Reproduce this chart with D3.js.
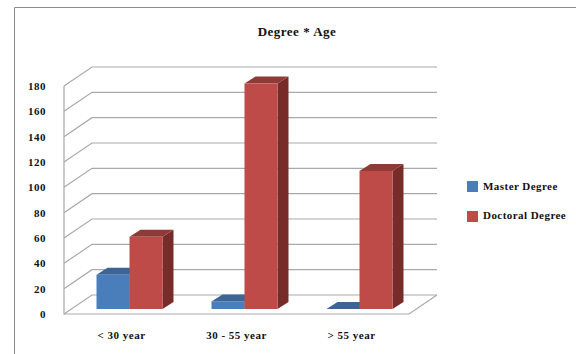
<!DOCTYPE html>
<html>
<head>
<meta charset="utf-8">
<script src="https://cdn.jsdelivr.net/npm/d3@7"></script>
<style>
  html, body { margin: 0; padding: 0; background: #fff; }
  svg { display: block; }
  text { font-family: "Liberation Serif", serif; font-weight: bold; fill: #111; }
</style>
</head>
<body>
<div id="chart"></div>
<script>
var categories = ['< 30 year', '30 - 55 year', '> 55 year'];
var seriesNames = ['Master Degree', 'Doctoral Degree'];
var masterValues = [27, 6, 0];
var doctoralValues = [57, 178, 109];
var tickValues = [0, 20, 40, 60, 80, 100, 120, 140, 160, 180];

var width = 576, height = 354;

// front plane of the 3d box, the back wall is the same plane moved by wall
var left = 64, right = 409, bottom = 314, top_ = 86;
var wall = {x: 28, y: -19};
// bars stand a little way into the box and have their own depth
var inset = {x: 8, y: -5};
var depth = {x: 11, y: -7};

var colors = {
    master: {front: '#4a7ebb', top: '#3c6595', side: '#2f5078'},
    doctoral: {front: '#be4b48', top: '#8f3a37', side: '#772c2a'}
};
var gridColor = '#a9a9a9';

var svg = d3.select('#chart').append('svg')
    .attr('width', width)
    .attr('height', height);

var x = d3.scaleBand().domain(categories).range([left, right]);
var y = d3.scaleLinear().domain([0, 180]).range([bottom, top_]);
var bar_x = d3.scaleBand().domain(seriesNames).range([0, 66]);
var bar_offset = (x.bandwidth() - 66) / 2;

// outer frame, only top and left edges show
svg.append('path')
    .attr('d', 'M14.5,354V7.5H576')
    .attr('fill', 'none')
    .attr('stroke', '#8c8c8c')
    .attr('stroke-width', 1);

// walls: one grid line per tick, going back along the side then across
var line = d3.line();
var grid = svg.append('g')
    .attr('fill', 'none')
    .attr('stroke', gridColor)
    .attr('stroke-width', 1.2);

tickValues.forEach(v => {
    grid.append('path').attr('d', line([
	[left, y(v)],
	[left + wall.x, y(v) + wall.y],
	[right + wall.x, y(v) + wall.y]
    ]));
});
grid.append('path').attr('d', line([[left, y(180)], [left, y(0)], [right, y(0)], [right + wall.x, y(0) + wall.y]]));

function poly(points) {
    return line(points) + 'Z';
}

function draw_bar(g, bx, value, w, c) {
    var base = bottom + inset.y;
    var scale = (y(0) - y(1));
    var topY = base - value * scale;
    var x0 = bx + inset.x, x1 = x0 + w;
    g.append('path').attr('fill', c.side).attr('d', poly([
	[x1, base], [x1 + depth.x, base + depth.y],
	[x1 + depth.x, topY + depth.y], [x1, topY]
    ]));
    g.append('path').attr('fill', c.top).attr('d', poly([
	[x0, topY], [x0 + depth.x, topY + depth.y],
	[x1 + depth.x, topY + depth.y], [x1, topY]
    ]));
    if (value > 0) {
	g.append('rect')
	    .attr('x', x0).attr('y', topY)
	    .attr('width', w).attr('height', base - topY)
	    .attr('fill', c.front);
    }
}

var bars = svg.append('g');
categories.forEach((cat, i) => {
    var g = bars.append('g');
    var start = x(cat) + bar_offset;
    draw_bar(g, start + bar_x(seriesNames[0]), masterValues[i], bar_x.bandwidth(), colors.master);
    draw_bar(g, start + bar_x(seriesNames[1]), doctoralValues[i], bar_x.bandwidth(), colors.doctoral);
});

// axes, labels only
var yAxis = d3.axisLeft(y).tickValues(tickValues).tickSize(0).tickPadding(18);
var yG = svg.append('g').attr('transform', `translate(${left},0)`).call(yAxis);
yG.select('.domain').remove();
yG.selectAll('text').attr('font-size', 11).style('letter-spacing', '0.5px');

var xAxis = d3.axisBottom(x).tickSize(0).tickPadding(17);
var xG = svg.append('g').attr('transform', `translate(0,${bottom})`).call(xAxis);
xG.select('.domain').remove();
xG.selectAll('text').attr('font-size', 11).style('letter-spacing', '0.5px');

svg.append('text')
    .attr('x', 297).attr('y', 36)
    .attr('text-anchor', 'middle')
    .attr('font-size', 13)
    .style('letter-spacing', '0.5px')
    .text('Degree * Age');

// legend
var legend = svg.append('g');
[colors.master, colors.doctoral].forEach((c, i) => {
    legend.append('rect')
	.attr('x', 467).attr('y', 181 + i * 30)
	.attr('width', 11).attr('height', 11)
	.attr('fill', c.front);
    legend.append('text')
	.attr('x', 483).attr('y', 189.5 + i * 29.5)
	.attr('font-size', 11)
	.style('letter-spacing', '0.45px')
	.text(seriesNames[i]);
});
</script>
</body>
</html>
